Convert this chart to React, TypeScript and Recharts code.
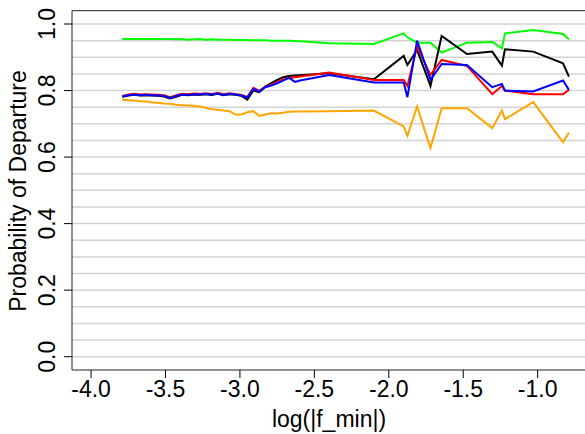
import React from "react";
import { LineChart, Line, XAxis, YAxis, CartesianGrid, ReferenceArea } from "recharts";

const xs = [
  -3.79, -3.75, -3.71, -3.67, -3.63, -3.59, -3.55, -3.51, -3.47, -3.43,
  -3.39, -3.35, -3.31, -3.27, -3.23, -3.19, -3.15, -3.11, -3.07, -3.03,
  -2.99, -2.95, -2.91, -2.87, -2.83, -2.79, -2.75, -2.71, -2.67, -2.63,
  -2.597, -2.4, -2.1, -1.9, -1.875, -1.81, -1.72, -1.645, -1.475, -1.305,
  -1.24, -1.22, -1.03, -0.83, -0.79,
];

const green = [
  0.955, 0.955, 0.955, 0.955, 0.955, 0.955, 0.955, 0.955, 0.955, 0.954,
  0.955, 0.953, 0.954, 0.955, 0.953, 0.954, 0.953, 0.953, 0.953, 0.952,
  0.952, 0.952, 0.951, 0.951, 0.951, 0.95, 0.95, 0.95, 0.95, 0.949,
  0.948, 0.942, 0.94, 0.972, 0.96, 0.944, 0.944, 0.914, 0.944, 0.946,
  0.927, 0.972, 0.982, 0.97, 0.954,
];

const black = [
  0.781, 0.785, 0.787, 0.785, 0.786, 0.785, 0.784, 0.782, 0.776, 0.781,
  0.787, 0.786, 0.788, 0.787, 0.789, 0.787, 0.79, 0.786, 0.789, 0.787,
  0.784, 0.773, 0.8, 0.795, 0.812, 0.822, 0.832, 0.84, 0.844, 0.845,
  0.846, 0.852, 0.834, 0.904, 0.877, 0.922, 0.814, 0.964, 0.91, 0.917,
  0.875, 0.924, 0.917, 0.882, 0.842,
];

const red = [
  0.784, 0.788, 0.79, 0.788, 0.789, 0.788, 0.787, 0.786, 0.78, 0.785,
  0.79, 0.789, 0.791, 0.79, 0.792, 0.79, 0.793, 0.789, 0.792, 0.79,
  0.787, 0.781, 0.808, 0.799, 0.812, 0.818, 0.826, 0.833, 0.838, 0.84,
  0.842, 0.854, 0.832, 0.832, 0.814, 0.932, 0.847, 0.892, 0.874, 0.789,
  0.814, 0.8, 0.789, 0.789, 0.802,
];

const blue = [
  0.782, 0.786, 0.788, 0.786, 0.787, 0.786, 0.785, 0.784, 0.778, 0.783,
  0.788, 0.787, 0.789, 0.788, 0.79, 0.788, 0.791, 0.787, 0.79, 0.788,
  0.785, 0.779, 0.805, 0.797, 0.81, 0.815, 0.822, 0.83, 0.838, 0.826,
  0.83, 0.847, 0.824, 0.824, 0.78, 0.95, 0.832, 0.88, 0.877, 0.81,
  0.82, 0.8, 0.797, 0.83, 0.802,
];

const orange = [
  0.772, 0.771, 0.77, 0.768, 0.767, 0.764, 0.763, 0.761, 0.76, 0.757,
  0.756, 0.755, 0.754, 0.752, 0.748, 0.744, 0.742, 0.74, 0.738, 0.728,
  0.728, 0.735, 0.738, 0.724, 0.728, 0.732, 0.731, 0.733, 0.736, 0.737,
  0.737, 0.738, 0.74, 0.692, 0.664, 0.752, 0.627, 0.747, 0.747, 0.687,
  0.74, 0.714, 0.765, 0.645, 0.674,
];

const xTicks = [-4, -3.5, -3, -2.5, -2, -1.5, -1];
const yTicks = [0, 0.2, 0.4, 0.6, 0.8, 1.0];
const gridValues = [
  0, 0.05, 0.1, 0.15, 0.2, 0.25, 0.3, 0.35, 0.4, 0.45, 0.5,
  0.55, 0.6, 0.65, 0.7, 0.75, 0.8, 0.85, 0.9, 0.95, 1.0,
];
const xDomain = [-4.128, -0.672];
const yDomain = [-0.04, 1.04];

const data = xs.map((x, i) => ({
  x,
  green: green[i],
  black: black[i],
  red: red[i],
  blue: blue[i],
  orange: orange[i],
}));

const FONT = "'Liberation Sans', Arial, sans-serif";
const FS = 23;

const XTick = (props: any) => {
  const { x, payload } = props;
  return (
    <text x={x} y={397} textAnchor="middle" fontFamily={FONT} fontSize={FS} fill="#000">
      {Number(payload.value).toFixed(1)}
    </text>
  );
};

const YTick = (props: any) => {
  const { y, payload } = props;
  const bx = 55;
  return (
    <text
      x={bx}
      y={y}
      transform={`rotate(-90 ${bx} ${y})`}
      textAnchor="middle"
      fontFamily={FONT}
      fontSize={FS}
      fill="#000"
    >
      {Number(payload.value).toFixed(1)}
    </text>
  );
};

export default function App() {
  return (
    <div
      style={{
        position: "absolute",
        left: 0,
        top: 0,
        width: 585,
        height: 434,
        overflow: "hidden",
        background: "#fff",
      }}
    >
      <LineChart
        width={600}
        height={434}
        data={data}
        margin={{ top: 10.7, right: 13.5, bottom: 34, left: 12 }}
      >
        <CartesianGrid
          vertical={false}
          horizontalValues={gridValues}
          stroke="#d3d3d3"
          strokeWidth={1.5}
        />
        <XAxis
          dataKey="x"
          type="number"
          domain={xDomain}
          ticks={xTicks}
          allowDataOverflow
          height={30}
          tickSize={8}
          tickLine={{ stroke: "#000" }}
          axisLine={false}
          tick={<XTick />}
          interval={0}
        />
        <YAxis
          type="number"
          domain={yDomain}
          ticks={yTicks}
          allowDataOverflow
          width={60}
          tickSize={8}
          tickLine={{ stroke: "#000" }}
          axisLine={false}
          tick={<YTick />}
          interval={0}
        />
        <Line dataKey="green" stroke="#00ff00" strokeWidth={2} dot={false} isAnimationActive={false} />
        <Line dataKey="black" stroke="#000000" strokeWidth={2} dot={false} isAnimationActive={false} />
        <Line dataKey="red" stroke="#ff0000" strokeWidth={2} dot={false} isAnimationActive={false} />
        <Line dataKey="blue" stroke="#0000ff" strokeWidth={2} dot={false} isAnimationActive={false} />
        <Line dataKey="orange" stroke="#ffa500" strokeWidth={2} dot={false} isAnimationActive={false} />
        <ReferenceArea
          x1={xDomain[0]}
          x2={xDomain[1]}
          y1={yDomain[0]}
          y2={yDomain[1]}
          fill="none"
          fillOpacity={0}
          stroke="#222"
          strokeWidth={1}
          ifOverflow="visible"
        />
      </LineChart>
      <svg
        width={585}
        height={434}
        style={{ position: "absolute", left: 0, top: 0, pointerEvents: "none" }}
      >
        <text
          x={26}
          y={191}
          transform="rotate(-90 26 191)"
          textAnchor="middle"
          fontFamily={FONT}
          fontSize={FS}
          fill="#000"
        >
          Probability of Departure
        </text>
        <text x={329} y={427} textAnchor="middle" fontFamily={FONT} fontSize={FS} fill="#000">
          log(|f_min|)
        </text>
      </svg>
    </div>
  );
}
